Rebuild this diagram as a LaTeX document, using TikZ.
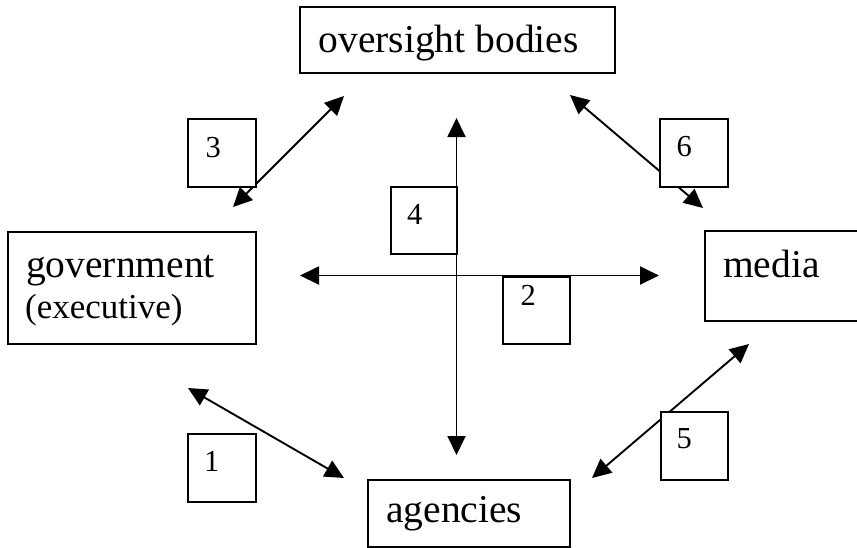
\documentclass[tikz,border=0pt]{standalone}
\usepackage{fontspec}
\setmainfont{Liberation Serif}
\usetikzlibrary{arrows.meta}
\begin{document}
\begin{tikzpicture}[x=1pt,y=-1pt,
  frame/.style={draw, line width=1.9pt, fill=white, inner sep=0pt, anchor=north west},
  conn/.style={line width=1.9pt, {Triangle[length=19pt,width=18pt]}-{Triangle[length=19pt,width=18pt]}},
  big/.style={anchor=base west, inner sep=0pt, font=\fontsize{39.5}{44}\selectfont},
  mid/.style={anchor=base west, inner sep=0pt, font=\fontsize{35}{40}\selectfont},
  num/.style={anchor=base west, inner sep=0pt, font=\fontsize{30.5}{34}\selectfont}]
\useasboundingbox (0,0) rectangle (857,547);

% connector end points
\coordinate (vtop) at (456.5,118);
\coordinate (vbot) at (456.5,455);
\coordinate (hleft) at (300,275.5);
\coordinate (hright) at (659,275.5);
\coordinate (c3a) at (233,207);
\coordinate (c3b) at (344,96);
\coordinate (c6a) at (570,95);
\coordinate (c6b) at (703,208);
\coordinate (c1a) at (188,388);
\coordinate (c1b) at (344,478);
\coordinate (c5a) at (592,478);
\coordinate (c5b) at (749,344);

% connectors
\draw[conn] (vbot) -- (vtop);
\draw[conn] (hleft) -- (hright);
\draw[conn] (c3a) -- (c3b);
\draw[conn] (c6a) -- (c6b);
\draw[conn] (c1a) -- (c1b);
\draw[conn] (c5a) -- (c5b);

% main boxes
\node[frame, minimum width=315pt, minimum height=66pt] (ovbox) at (299,6) {};
\node[big] (ovtext) at (318.5,52) {oversight bodies};

\node[frame, minimum width=248pt, minimum height=112pt] (govbox) at (7,231) {};
\node[big] (govtext) at (26,277) {government};
\node[mid] (exectext) at (25,318) {(executive)};

\node[frame, minimum width=160pt, minimum height=90pt] (medbox) at (704,230) {};
\node[big] (medtext) at (723,277) {media};

\node[frame, minimum width=202pt, minimum height=67pt] (agbox) at (367,479) {};
\node[big] (agtext) at (386,522) {agencies};

% number boxes
\node[frame, minimum width=68pt, minimum height=68pt] (b3) at (187,118) {};
\node[num] (n3) at (205.5,157) {3};
\node[frame, minimum width=68pt, minimum height=68pt] (b6) at (659,118) {};
\node[num] (n6) at (676.5,156) {6};
\node[frame, minimum width=66.5pt, minimum height=67pt] (b4) at (390,186) {};
\node[num] (n4) at (407,224) {4};
\node[frame, minimum width=67pt, minimum height=67pt] (b2) at (502,276) {};
\node[num] (n2) at (520.5,305) {2};
\node[frame, minimum width=68pt, minimum height=68pt] (b1) at (187,433) {};
\node[num] (n1) at (204,471) {1};
\node[frame, minimum width=67pt, minimum height=68pt] (b5) at (660,411) {};
\node[num] (n5) at (676.5,448) {5};

% redraw line segments lying on box edges
\draw[line width=1.9pt] (456.5,186) -- (456.5,253);
\draw[line width=1.9pt] (502,275.5) -- (569,275.5);
\end{tikzpicture}
\end{document}
